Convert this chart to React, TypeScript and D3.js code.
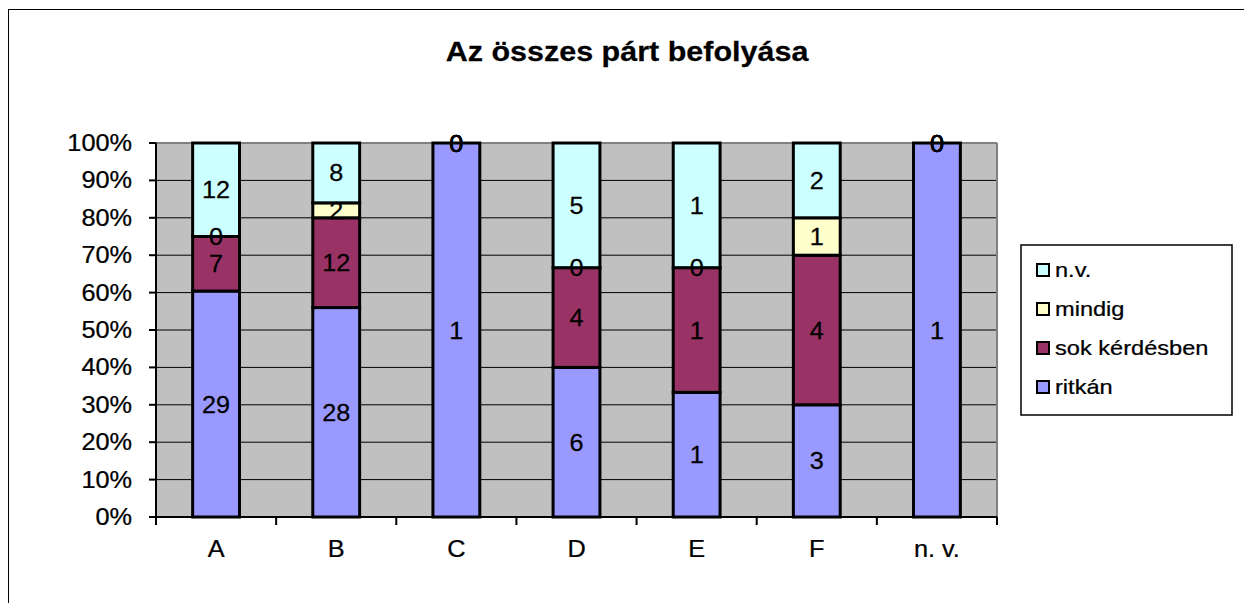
import React from "react";
import * as d3 from "d3";

const categories = ["A", "B", "C", "D", "E", "F", "n. v."];
const seriesNames = ["ritkán", "sok kérdésben", "mindig", "n.v."];
const ritkan = [29, 28, 1, 6, 1, 3, 1];
const sokKerdesben = [7, 12, 0, 4, 1, 4, 0];
const mindig = [0, 2, 0, 0, 0, 1, 0];
const nv = [12, 8, 0, 5, 1, 2, 0];
const yTicks = [0, 0.1, 0.2, 0.3, 0.4, 0.5, 0.6, 0.7, 0.8, 0.9, 1];
const colors = ["#9999FF", "#993366", "#FFFFCC", "#CCFFFF"];

const W = 1244, H = 603;
const plot = { left: 156, right: 997, top: 143, bottom: 517 };
const FONT = "'Liberation Sans', Arial, sans-serif";
const SX = 1.1;

function T({ x, y, size, anchor = "middle", bold = false, sx = SX, children }: any) {
  return (
    <text
      transform={`translate(${x},${y}) scale(${sx},1)`}
      fontSize={size}
      fontFamily={FONT}
      fontWeight={bold ? "bold" : "normal"}
      textAnchor={anchor}
      fill="#000"
      stroke="#000"
      strokeWidth={0.25}
    >
      {children}
    </text>
  );
}

export default function App() {
  const seriesArrays = [ritkan, sokKerdesben, mindig, nv];
  const rows = categories.map((c, i) => {
    const r: any = { cat: c };
    seriesNames.forEach((s, j) => (r[s] = seriesArrays[j][i]));
    return r;
  });
  const stack = d3.stack<any>().keys(seriesNames).offset(d3.stackOffsetExpand);
  const stacked = stack(rows);

  const x = d3.scaleBand<string>().domain(categories).range([plot.left, plot.right]).padding(0);
  const y = d3.scaleLinear().domain([0, 1]).range([plot.bottom, plot.top]);
  const bw = x.bandwidth() * 0.39;

  const legendItems = [...seriesNames].reverse();

  return (
    <svg width={W} height={H} style={{ position: "absolute", left: 0, top: 0 }}>
      <rect x={0} y={0} width={W} height={H} fill="#fff" />
      <rect x={8.5} y={9.5} width={1400} height={800} fill="none" stroke="#000" strokeWidth={1} />
      <T x={627} y={61} size={27} bold sx={1.13}>Az összes párt befolyása</T>

      {/* plot area */}
      <rect x={plot.left} y={plot.top} width={plot.right - plot.left} height={plot.bottom - plot.top} fill="#C0C0C0" />
      {yTicks.map((t) => (
        <line key={"g" + t} x1={plot.left} x2={plot.right} y1={y(t)} y2={y(t)} stroke="#000" strokeWidth={1} />
      ))}
      <line x1={plot.left} x2={plot.right} y1={plot.top} y2={plot.top} stroke="#808080" strokeWidth={2} />
      <line x1={plot.right} x2={plot.right} y1={plot.top} y2={plot.bottom} stroke="#808080" strokeWidth={2} />

      {/* bars */}
      {stacked.map((s, si) =>
        s.map((d, i) => (
          <rect
            key={si + "-" + i}
            x={x(categories[i])! + (x.bandwidth() - bw) / 2}
            y={y(d[1])}
            width={bw}
            height={y(d[0]) - y(d[1])}
            fill={colors[si]}
            stroke="#000"
            strokeWidth={3}
          />
        ))
      )}

      {/* axes */}
      <line x1={plot.left} x2={plot.left} y1={plot.top} y2={plot.bottom} stroke="#000" strokeWidth={2} />
      <line x1={plot.left} x2={plot.right} y1={plot.bottom} y2={plot.bottom} stroke="#000" strokeWidth={2} />
      {yTicks.map((t) => (
        <g key={"t" + t}>
          <line x1={plot.left - 7} x2={plot.left} y1={y(t)} y2={y(t)} stroke="#000" strokeWidth={2} />
          <T x={132} y={y(t) + 8} size={23} anchor="end">{Math.round(t * 100) + "%"}</T>
        </g>
      ))}
      {[...categories.map((c) => x(c)!), plot.right].map((bx, i) => (
        <line key={"xt" + i} x1={bx} x2={bx} y1={plot.bottom} y2={plot.bottom + 8} stroke="#000" strokeWidth={2} />
      ))}
      {categories.map((c) => (
        <T key={"xl" + c} x={x(c)! + x.bandwidth() / 2} y={557} size={23}>{c}</T>
      ))}

      {/* value labels */}
      {stacked.map((s, si) =>
        s.map((d, i) => (
          <T key={"v" + si + "-" + i} x={x(categories[i])! + x.bandwidth() / 2} y={(y(d[0]) + y(d[1])) / 2 + 8.5} size={24} sx={1.05}>
            {seriesArrays[si][i]}
          </T>
        ))
      )}

      {/* legend */}
      <rect x={1021} y={245} width={211} height={170} fill="#fff" stroke="#000" strokeWidth={1.5} />
      {legendItems.map((name, k) => {
        const cy = 270 + k * 39;
        const ci = seriesNames.indexOf(name);
        return (
          <g key={"l" + name}>
            <rect x={1037} y={cy - 6} width={12} height={12} fill={colors[ci]} stroke="#000" strokeWidth={2} />
            <T x={1055} y={cy + 7} size={20} anchor="start" sx={1.18}>{name}</T>
          </g>
        );
      })}
    </svg>
  );
}
